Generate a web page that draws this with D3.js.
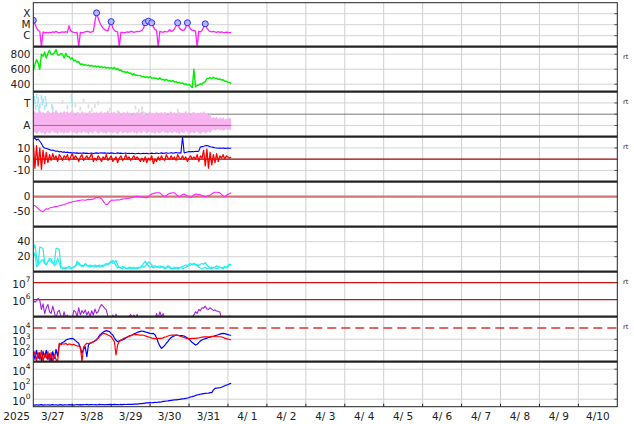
<!DOCTYPE html>
<html><head><meta charset="utf-8">
<script src="https://cdn.jsdelivr.net/npm/d3@7"></script>
<style>
body{margin:0;background:#fff}
svg{display:block}
text{font-family:"DejaVu Sans",sans-serif;fill:#222}
</style></head>
<body><svg id="c" width="634" height="424"></svg>
<script>
// ---------- DATA (hourly from 2025-03-27 00:00 UT) ----------
const startDay = "2025-03-27";
const endDay = "2025-04-11";
const yearLabel = "2025";

// GOES X-ray flux in C-class units (1 = 1e-6 W/m2)
const xrayC = [25,12,5,3,2.5,0.01,2.2,1.8,2.0,1.8,
2.0,1.9,2.2,2.0,2.5,2.0,1.8,2.0,2.2,2.0,
2.3,2.0,8,3,2.2,2.0,1.9,2.0,0.01,2.0,
1.8,2.0,2.2,2.5,2.4,2.0,2.2,2.5,20,120,
40,15,8,5,3.5,3,2.8,8,19,5,
3,2.5,2.2,0.01,2.0,2.0,1.8,2.0,2.2,2.0,
2.5,2.3,2.0,2.2,2.5,2.3,2.6,3,5,15,
10,21,9,15,6,3.5,3,0.01,2.5,2.2,
2.0,2.5,2.2,2.4,3.5,2.5,2.8,4,8,15,
5,3.5,3,3.2,6,15,7,4,3,3,
2.6,0.01,2.5,2.2,3,6,12,5,3,2.5,
2.2,2.5,2.2,2.0,2.3,2.0,2.2,2.0,1.9,2.1,
2.0,1.9,2.0];
const flareHour = [0,39,48,69,71,73,89,95,106];
const flareC = [25,120,19,15,21,15,15,15,12];

// Solar wind speed (km/s)
const speed = [580,660,730,680,600,800,770,830,750,810,
850,800,800,820,860,790,790,810,800,750,
810,770,770,735,750,710,720,690,700,660,
670,655,660,650,655,640,650,635,645,630,
640,625,635,620,630,615,625,610,620,605,
625,595,610,585,590,565,570,555,565,545,
550,525,540,520,520,515,515,500,505,490,
500,485,500,480,485,480,480,465,485,460,
465,450,465,445,450,435,450,430,435,420,
425,410,417,400,405,390,397,380,355,600,
365,385,390,405,400,425,435,475,475,490,
473,493,477,480,465,470,455,460,440,440,
423,425,407];

// IMF sector (T = +0.5, A = -0.5): upper / lower edge of the Away band
const sectorHi = [0.05,0.15,0.0,0.1,0.2,0.05,0.12,-0.02,0.08,0.18,
0.1,0.0,0.15,0.05,0.22,0.08,0.0,0.12,0.04,0.16,
0.06,0.14,0.0,0.1,0.2,0.05,-0.05,0.12,0.08,0.02,
0.15,0.05,0.1,-0.04,0.08,0.18,0.0,0.1,0.04,0.12,
-0.02,0.08,0.14,0.0,0.1,0.05,0.16,0.02,0.1,0.06,
0.12,0.0,0.08,0.15,-0.04,0.06,0.1,0.02,0.14,0.04,
0.08,-0.06,0.1,0.02,0.12,0.0,0.06,0.14,0.04,0.1,
-0.04,0.06,0.12,0.0,0.08,0.02,0.14,-0.02,0.06,0.1,
0.0,0.12,0.04,-0.06,0.08,0.14,0.02,0.1,-0.04,0.06,
0.12,0.0,0.08,0.04,0.16,0.02,0.1,-0.05,0.06,0.12,
0.02,0.08,-0.02,0.1,0.04,0.14,0.0,0.06,-0.06,0.04,
-0.2,-0.12,-0.18,-0.1,-0.22,-0.15,-0.2,-0.12,-0.25,-0.18,
-0.22,-0.16,-0.2];
const sectorLo = [-0.85,-0.78,-0.9,-0.82,-0.75,-0.88,-0.8,-0.92,-0.84,-0.78,
-0.88,-0.8,-0.74,-0.86,-0.8,-0.9,-0.76,-0.84,-0.8,-0.88,
-0.78,-0.86,-0.82,-0.74,-0.88,-0.8,-0.84,-0.9,-0.78,-0.82,
-0.86,-0.76,-0.84,-0.8,-0.9,-0.78,-0.82,-0.86,-0.74,-0.8,
-0.88,-0.82,-0.78,-0.86,-0.8,-0.9,-0.76,-0.84,-0.8,-0.86,
-0.78,-0.84,-0.9,-0.8,-0.76,-0.86,-0.82,-0.78,-0.88,-0.8,
-0.84,-0.76,-0.86,-0.8,-0.9,-0.78,-0.82,-0.86,-0.74,-0.8,
-0.88,-0.8,-0.76,-0.84,-0.8,-0.9,-0.78,-0.82,-0.86,-0.8,
-0.76,-0.84,-0.8,-0.88,-0.78,-0.82,-0.86,-0.76,-0.84,-0.8,
-0.9,-0.78,-0.82,-0.86,-0.74,-0.8,-0.88,-0.84,-0.78,-0.86,
-0.8,-0.76,-0.84,-0.9,-0.8,-0.78,-0.86,-0.82,-0.76,-0.84,
-0.72,-0.68,-0.74,-0.7,-0.66,-0.72,-0.68,-0.74,-0.7,-0.66,
-0.7,-0.68,-0.72];
const towardHour = [0.2,0.6,1,1.5,2,2.6,3,3.5,4,5,5.5,6,7,7.5,8,11.5,12,23.5,23.8,24.1];
const towardVal  = [0.4,0.7,0.55,0.3,0.8,0.45,0.65,0.25,0.35,0.75,0.5,0.6,0.3,0.7,0.45,0.35,0.22,0.8,0.6,0.45];
const grayHour = [18,21,24,26,29,31,34,36,38,40,63,65,67,68,47,52,89];
const grayVal  = [0.55,0.3,0.7,0.4,0.25,0.6,0.35,0.2,0.36,0.5,0.3,0.15,0.25,0.05,0.2,0.1,0.15];

// IMF Bt (blue) and Bz (red), nT
const bt = [18,19,17,18,16,14,11,10,9.5,9,
8.5,8,8.2,7.6,7,7.2,6.5,6.8,6.2,6.5,
6,6.3,5.8,6,5.5,5.8,5.4,5.6,5.2,5.5,
5.3,5.6,5.2,5.4,5,5.3,5.5,5.1,5.4,5.6,
5.2,5.5,5.8,5.4,5.6,5.3,5.5,5.2,5.6,5.4,
5.1,5.3,5.6,5.2,5.4,5,5.3,5.5,5.1,5.2,
5,5.3,5.1,4.8,5,5.2,4.9,5.1,5.3,5,
5.2,4.9,5.1,5.4,5,5.2,5.5,5.1,5.3,5.6,
5.2,5.4,5.7,5.3,5.5,5.8,5.4,5.6,5.9,5.5,
5.7,5.4,20,5.6,6,6.4,6.8,6.5,6.9,6.6,
7,6.8,7.2,10.8,11.2,11.5,12,12.2,11.8,11,
10.8,10.5,10.2,10,9.8,10,9.7,9.9,9.6,9.8,
9.9,9.7,9.8];
const bz = [15,-8,12,-6,10,-9,8,-4,6,-3,
4,-1,5,0,3,-2,4,2,-1,3,
1,4,-1,2,5,0,3,1,-2,2,
4,-1,1,3,0,2,5,-2,1,-1,
3,1,-2,2,0,4,-1,1,3,-2,
0,2,-3,1,3,-1,0,4,0,2,
-1,1,3,0,2,0,-2,1,-2,2,
-3,1,-1,3,-4,0,-2,2,-1,3,
0,-1,4,1,0,3,0,2,-1,4,
1,0,3,0,2,-2,1,3,0,2,
0,4,-2,3,1,8,-6,9,-8,6,
-5,4,-3,5,-2,3,1,4,0,3,
2,1,2];

// Dst index (nT)
const dst = [-28,-30,-35,-40,-45,-48,-50,-45,-40,-42,
-38,-36,-35,-34,-33,-32,-30,-29,-28,-26,
-24,-22,-20,-19,-17,-16,-15,-14,-13,-12,
-11,-11,-12,-10,-9,-10,-9,-8,-5,-3,
-3,-4,-6,-14,-22,-27,-24,-17,-13,-11,
-12,-11,-10,-11,-9,-8,-7,-7,-6,-5,
-4,-3,-1,0,1,0,0,-1,-2,-3,
-3,0,5,9,11,12,13,13,13,8,
3,0,4,8,11,12,13,13,8,3,
0,3,7,9,6,2,-1,-3,1,6,
9,8,7,6,4,2,0,2,4,6,
9,13,15,15,14,13,8,3,0,4,
8,11,13];

// Two cyan series
const cyanA = [30,36,20,9,33,32,31,12,9,14,
16,13,12,11,31,31,29,7,6,5,
6,5,7,6,5,7,8,14,10,8,
9,7,11,9,8,9,7,8,9,7,
8,6,7,9,8,10,9,11,13,15,
12,15,9,6,5,7,6,4,5,6,
4,5,6,5,4,6,5,7,6,8,
10,13,12,9,7,8,6,7,8,6,
7,5,6,8,7,5,4,6,5,4,
5,6,4,5,6,7,8,9,10,11,
9,10,8,10,11,10,12,9,7,5,
4,6,5,4,5,6,5,4,6,5,
7,9,10];
const cyanB = [20,25,7,9,12,15,16,11,10,13,
18,17,12,8,10,18,12,5,4,5,
4,6,5,4,5,6,7,10,12,9,
7,8,10,8,7,6,8,7,6,8,
7,9,8,7,9,11,10,12,14,11,
12,8,5,6,5,4,6,5,4,5,
6,4,5,4,6,5,6,8,11,14,
10,8,6,7,5,6,7,6,5,7,
6,4,5,6,5,4,5,4,5,6,
5,6,7,8,9,8,10,11,9,11,
10,8,6,5,4,5,6,4,5,4,
6,5,6,8,7,6,5,6,7,6,
8,10,9];

// Purple series, log10 values
const purpleLog = [5.96,5.85,5.95,6.08,5.96,5.43,5.76,5.18,5.53,5.72,
5.29,5.2,5.62,5.25,4.9,5.29,5.37,5.0,4.9,5.29,
4.9,5.1,4.9,4.8,4.9,5.37,5.3,5.0,5.53,5.1,
5.37,5.2,5.4,5.1,5.3,5.0,5.35,5.1,5.45,5.2,
5.3,5.55,5.72,5.62,5.5,5.4,5.0,4.9,4.9,5.1,
4.9,5.15,4.9,4.8,4.9,4.8,4.9,4.8,4.9,5.0,
5.13,4.9,5.1,4.9,5.13,4.8,4.9,4.8,4.9,4.8,
4.9,4.8,4.9,4.8,4.9,4.8,5.18,4.9,5.29,5.0,
5.18,4.9,4.8,4.9,4.8,4.9,4.8,4.9,4.8,4.9,
4.8,4.9,4.8,4.9,4.8,4.9,4.8,4.9,5.0,5.1,
5.29,5.2,5.43,5.35,5.53,5.5,5.62,5.45,5.43,5.53,
5.45,5.37,5.4,5.33,5.3,5.29,4.9,4.8,4.9,4.8,
4.9,5.05,4.8];
const purpleLines = [6, 7];

// Electron flux, log10 (blue, red)
const elecBlueLog = [1.9,1.2,2.0,1.3,1.8,1.1,1.9,1.4,2.0,1.2,1.7,1.0,1.9,1.3,2.1,1.5,
2.48,2.6,2.7,2.78,2.9,2.99,3.02,3.05,3.08,3.0,2.87,2.75,2.64,2.2,
1.75,2.1,2.33,1.44,2.5,2.64,2.7,2.78,2.85,2.93,
3.15,3.37,3.5,3.62,3.7,3.76,3.72,3.67,3.5,3.37,
3.1,2.9,2.78,2.85,2.9,2.93,3.0,3.1,3.2,3.28,
3.33,3.37,3.45,3.52,3.6,3.65,3.7,3.73,3.7,3.65,
3.6,3.56,3.52,3.5,3.52,3.4,3.1,2.7,2.4,2.19,
2.3,2.45,2.64,2.8,3.0,3.15,3.25,3.3,3.37,3.35,
3.33,3.32,3.31,3.28,3.2,3.1,3.0,2.85,2.7,2.6,
2.48,2.55,2.7,2.85,2.93,3.0,3.05,3.1,3.15,3.18,
3.22,3.25,3.3,3.35,3.4,3.45,3.5,3.52,3.5,3.45,
3.4,3.37,3.35];
const elecRedLog = [1.5,1.9,1.1,1.8,1.2,2.0,1.0,1.7,1.3,1.9,1.1,1.8,1.0,1.6,1.2,1.0,
2.64,2.5,2.6,2.55,2.64,2.5,2.58,2.55,2.5,2.55,2.45,2.4,2.38,2.33,
1.0,2.3,2.5,2.64,2.6,2.66,2.69,2.75,2.85,3.0,
3.08,3.25,3.4,3.52,3.5,3.45,3.37,3.3,3.23,3.0,
2.78,1.6,2.5,2.8,2.93,3.0,3.1,3.15,3.2,3.25,
3.3,3.37,3.4,3.42,3.4,3.38,3.37,3.37,3.35,3.3,
3.25,3.2,3.15,3.1,3.08,3.05,3.06,3.07,3.08,3.08,
3.12,3.18,3.22,3.28,3.33,3.37,3.37,3.36,3.37,3.35,
3.3,3.25,3.2,3.15,3.1,3.08,3.05,3.05,3.08,3.08,
3.08,3.1,3.12,3.15,3.18,3.2,3.22,3.2,3.22,3.22,
3.25,3.25,3.22,3.22,3.22,3.22,3.2,3.15,3.1,3.05,
3.0,2.97,2.93];
const elecThreshold = 4;

// Bottom series, log10
const bottomLog = [-0.75,-0.78,-0.74,-0.8,-0.76,-0.73,-0.79,-0.75,-0.77,-0.74,
-0.78,-0.75,-0.72,-0.77,-0.74,-0.79,-0.76,-0.73,-0.78,-0.75,
-0.74,-0.77,-0.72,-0.76,-0.73,-0.78,-0.74,-0.71,-0.75,-0.73,
-0.76,-0.72,-0.74,-0.7,-0.75,-0.73,-0.71,-0.74,-0.72,-0.75,
-0.73,-0.7,-0.74,-0.72,-0.75,-0.71,-0.73,-0.7,-0.74,-0.72,
-0.7,-0.73,-0.71,-0.74,-0.7,-0.72,-0.69,-0.71,-0.68,-0.7,
-0.67,-0.69,-0.66,-0.64,-0.66,-0.62,-0.6,-0.58,-0.55,-0.52,
-0.5,-0.48,-0.46,-0.47,-0.45,-0.43,-0.44,-0.4,-0.38,-0.35,
-0.3,-0.28,-0.24,-0.22,-0.18,-0.15,-0.12,-0.1,-0.08,-0.05,
-0.02,0.02,0.05,0.08,0.12,0.16,0.22,0.3,0.34,0.4,
0.5,0.56,0.6,0.66,0.72,0.75,0.77,0.79,0.82,0.87,
0.87,1.2,1.45,1.48,1.5,1.53,1.6,1.7,1.8,1.89,
1.95,2.05,2.12];

// ---------- LAYOUT ----------
const svg = d3.select("#c");
const L = 33.3, R = 617.3;
const tops = [2.7,46.7,91.7,136.7,181.7,226.7,271.7,316.7,361.7];
const bots = [46.7,91.7,136.7,181.7,226.7,271.7,316.7,361.7,406.7];
const HOUR = 3600e3;
const t0 = new Date(startDay + "T00:00:00Z").getTime();
const tEnd = new Date(endDay + "T00:00:00Z");
const x = d3.scaleUtc().domain([new Date(t0), tEnd]).range([L, R]);
const tx = h => x(new Date(t0 + h * HOUR));

const ys = [
  d3.scaleLog().domain([1e-7,1e-3]).range([bots[0],tops[0]]),
  d3.scaleLinear().domain([300,900]).range([bots[1],tops[1]]),
  d3.scaleLinear().domain([-1,1]).range([bots[2],tops[2]]),
  d3.scaleLinear().domain([-20,20]).range([bots[3],tops[3]]),
  d3.scaleLinear().domain([-100,50]).range([bots[4],tops[4]]),
  d3.scaleLinear().domain([0,60]).range([bots[5],tops[5]]),
  d3.scaleLog().domain([1e5, Math.pow(10,7.647)]).range([bots[6],tops[6]]),
  d3.scaleLog().domain([1e1,1e5]).range([bots[7],tops[7]]),
  d3.scaleLog().domain([1e-1,1e5]).range([bots[8],tops[8]])
];

const defs = svg.append("defs");
tops.forEach((t,i)=>{
  defs.append("clipPath").attr("id","cp"+i).append("rect")
    .attr("x",L).attr("y",t).attr("width",R-L).attr("height",bots[i]-t);
});

const grid = svg.append("g");
const days = d3.utcDay.range(new Date(t0), tEnd);
days.slice(1).forEach(d=>{
  grid.append("line").attr("x1",x(d)).attr("x2",x(d)).attr("y1",tops[0]).attr("y2",bots[8])
    .attr("stroke","#cfcfcf").attr("stroke-width",1);
});
function hgrid(p, v, color="#d3d3d3", w=1){
  const y = ys[p](v);
  grid.append("line").attr("x1",L).attr("x2",R).attr("y1",y).attr("y2",y)
    .attr("stroke",color).attr("stroke-width",w);
  // small tick at right edge
  grid.append("line").attr("x1",R-3).attr("x2",R).attr("y1",y).attr("y2",y)
    .attr("stroke","#555").attr("stroke-width",1);
}
[1e-6,1e-5,1e-4].forEach(v=>hgrid(0,v));
[400,600,800].forEach(v=>hgrid(1,v));
[0.5,-0.5].forEach(v=>hgrid(2,v));
hgrid(2,0,"#777",1);
[10,-10].forEach(v=>hgrid(3,v));
[-50].forEach(v=>hgrid(4,v));
[20,40].forEach(v=>hgrid(5,v));
[1e2,1e3].forEach(v=>hgrid(7,v));
[1e0,1e2,1e4].forEach(v=>hgrid(8,v));

const ref = svg.append("g");
function refline(p, v, color, w, dash){
  const y = ys[p](v);
  const l = ref.append("line").attr("x1",L).attr("x2",R).attr("y1",y).attr("y2",y)
    .attr("stroke",color).attr("stroke-width",w);
  if(dash) l.attr("stroke-dasharray",dash);
}
refline(3,0,"#990000",1.2);
refline(4,0,"#d27474",2.2);
purpleLines.forEach(e=>refline(6,Math.pow(10,e),"#cc1111",1.3));
refline(7,Math.pow(10,elecThreshold),"#dd3333",1.5,"9,5");

function drawLine(p, arr, fy, color, w){
  const line = d3.line().x((d,i)=>tx(i)).y((d,i)=>ys[p](fy(d)));
  svg.append("path").attr("clip-path",`url(#cp${p})`).datum(arr)
    .attr("d",line).attr("fill","none").attr("stroke",color).attr("stroke-width",w)
    .attr("stroke-linejoin","round");
}

// Panel 1: X-ray
drawLine(0, xrayC, d=>Math.max(d*1e-6,1e-7), "#ff22ff", 1.3);
svg.append("g").attr("clip-path","url(#cp0)").selectAll("circle").data(flareHour).join("circle")
  .attr("cx",(h)=>tx(h)).attr("cy",(h,i)=>ys[0](flareC[i]*1e-6)).attr("r",3)
  .attr("fill","#b8b8ff").attr("stroke","#2a2aff").attr("stroke-width",1);

// Panel 2: speed
drawLine(1, speed, d=>d, "#00ee00", 1.4);

// Panel 3: sector
const g3 = svg.append("g").attr("clip-path","url(#cp2)");
g3.append("path").datum(sectorHi)
  .attr("d", d3.area().x((d,i)=>tx(i)).y0((d,i)=>ys[2](sectorLo[i])).y1(d=>ys[2](d)))
  .attr("fill","#f7b4f0");
g3.selectAll("rect.gy").data(grayHour).join("rect").attr("class","gy")
  .attr("x",h=>tx(h)-0.8).attr("width",1.6).attr("y",(h,i)=>ys[2](grayVal[i])-2).attr("height",4)
  .attr("fill","#dcdcdc");
g3.selectAll("rect.tb").data(towardHour).join("rect").attr("class","tb")
  .attr("x",h=>tx(h)-0.8).attr("width",1.6).attr("y",(h,i)=>ys[2](towardVal[i])-2.5).attr("height",5)
  .attr("fill","#a8e4f8");
g3.append("line").attr("x1",tx(0)).attr("x2",tx(sectorHi.length-1))
  .attr("y1",ys[2](-0.5)).attr("y2",ys[2](-0.5)).attr("stroke","#e05555").attr("stroke-width",1);

// Panel 4: IMF
drawLine(3, bz, d=>d, "#ff0000", 1.3);
drawLine(3, bt, d=>d, "#0000ff", 1.1);

// Panel 5: Dst
drawLine(4, dst, d=>d, "#ff22ff", 1.1);

// Panel 6: cyan
drawLine(5, cyanB, d=>d, "#22eeee", 1.2);
drawLine(5, cyanA, d=>d, "#22eeee", 1.2);

// Panel 7: purple
drawLine(6, purpleLog, d=>Math.pow(10,d), "#a020e0", 1.1);

// Panel 8: electrons
drawLine(7, elecBlueLog, d=>Math.pow(10,d), "#0000ff", 1.2);
drawLine(7, elecRedLog, d=>Math.pow(10,d), "#ff0000", 1.2);

// Panel 9
drawLine(8, bottomLog, d=>Math.pow(10,d), "#0000ff", 1.2);

// ---------- frame ----------
const fr = svg.append("g");
tops.slice(1).forEach(t=>{
  fr.append("line").attr("x1",L).attr("x2",R).attr("y1",t).attr("y2",t)
    .attr("stroke","#222").attr("stroke-width",2.2);
});
fr.append("rect").attr("x",L).attr("y",tops[0]).attr("width",R-L).attr("height",bots[8]-tops[0])
  .attr("fill","none").attr("stroke","#222").attr("stroke-width",1);
days.slice(1).forEach(d=>{
  fr.append("line").attr("x1",x(d)).attr("x2",x(d)).attr("y1",bots[8]).attr("y2",bots[8]-3)
    .attr("stroke","#222").attr("stroke-width",1);
});

// ---------- labels ----------
const lab = svg.append("g").attr("font-size",10.5);
function ylab(p, v, txt){
  lab.append("text").attr("x",30.5).attr("y",ys[p](v)).attr("dy","0.36em")
    .attr("text-anchor","end").text(txt);
}
function ylabPow(p, e){
  const y = ys[p](Math.pow(10,e));
  const t = lab.append("text").attr("x",30.5).attr("y",y+5.6).attr("text-anchor","end");
  t.append("tspan").text("10");
  t.append("tspan").attr("dy",-6).attr("font-size",7.5).text(String(e));
}
ylab(0,1e-4,"X"); ylab(0,1e-5,"M"); ylab(0,1e-6,"C");
[800,600,400].forEach(v=>ylab(1,v,String(v)));
ylab(2,0.5,"T"); ylab(2,-0.5,"A");
ylab(3,10,"10"); ylab(3,0,"0"); ylab(3,-10,"-10");
ylab(4,0,"0"); ylab(4,-50,"-50");
ylab(5,40,"40"); ylab(5,20,"20");
[7,6].forEach(e=>ylabPow(6,e));
[4,3,2].forEach(e=>ylabPow(7,e));
[4,2,0].forEach(e=>ylabPow(8,e));

const fmt = d => `${d.getUTCMonth()+1}/${String(d.getUTCDate()).padStart(2," ")}`;
days.forEach(d=>{
  lab.append("text").attr("x",x(new Date(d.getTime()+12*HOUR))).attr("y",420)
    .attr("text-anchor","middle").style("white-space","pre").text(fmt(d));
});
lab.append("text").attr("x",30).attr("y",420).attr("text-anchor","end").text(yearLabel);

[1,2,3,6,7].forEach(p=>{
  svg.append("text").attr("x",623).attr("y",tops[p]+12).attr("font-size",6.5)
    .attr("fill","#444").text("rt");
});
</script></body></html>
